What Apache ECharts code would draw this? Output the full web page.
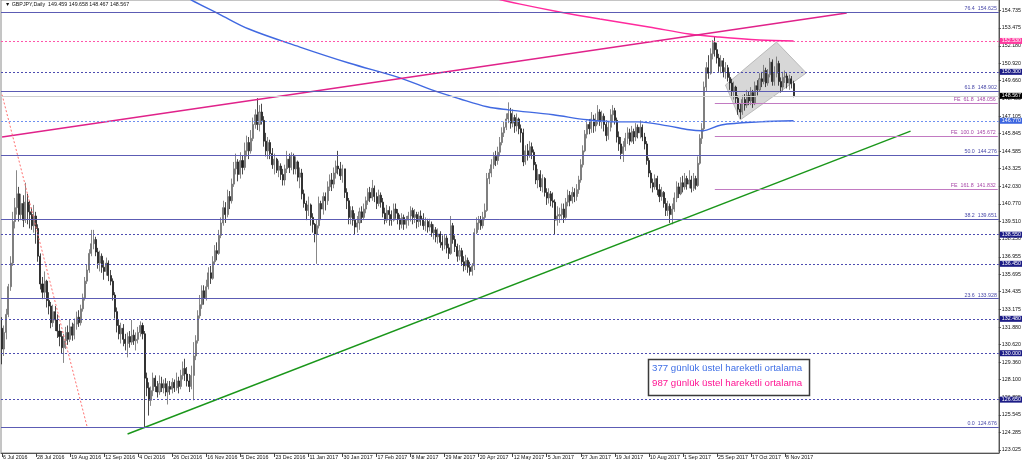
<!DOCTYPE html>
<html><head><meta charset="utf-8">
<script src="https://cdn.jsdelivr.net/npm/echarts@6/dist/echarts.min.js"></script>
<style>html,body{margin:0;padding:0;background:#fff}#c{width:1024px;height:464px}</style>
</head><body><div id="c"></div>
<script>
const xTickLabels = ["6 Jul 2016","28 Jul 2016","19 Aug 2016","12 Sep 2016","4 Oct 2016","26 Oct 2016","16 Nov 2016","5 Dec 2016","23 Dec 2016","11 Jan 2017","30 Jan 2017","17 Feb 2017","8 Mar 2017","29 Mar 2017","20 Apr 2017","12 May 2017","5 Jun 2017","27 Jun 2017","19 Jul 2017","10 Aug 2017","1 Sep 2017","25 Sep 2017","17 Oct 2017","8 Nov 2017"];
const yTickLabels = ["123.025","124.285","125.545","126.805","128.100","129.360","130.620","131.880","133.175","134.435","135.695","136.955","138.250","139.510","140.770","142.030","143.325","144.585","145.845","147.105","148.400","149.660","150.920","152.180","153.475","154.735"];

const firstOpen = 131.8;
const closes = [
130.3,131.5,132.8,134.8,136.5,139.5,140.5,141.5,140.0,140.8,
139.6,140.9,140.2,140.0,139.2,139.9,139.0,137.0,135.0,134.4,
135.2,133.8,133.4,132.2,133.0,132.4,131.6,131.2,130.4,130.9,
131.5,131.0,131.9,131.3,132.1,132.6,132.2,133.2,134.0,135.2,
136.0,137.2,137.9,138.2,137.3,136.5,137.0,136.2,135.9,136.5,
135.6,135.2,134.2,133.0,132.0,131.4,131.8,131.0,130.7,131.2,
130.8,131.3,130.9,131.0,131.5,132.0,131.4,128.2,127.5,126.6,
127.3,128.2,127.6,127.2,127.8,127.5,127.8,127.2,127.6,127.4,
127.9,127.5,128.0,127.6,128.4,128.9,128.5,128.0,127.6,128.4,
129.8,130.9,132.7,133.5,134.5,134.0,134.8,135.8,135.4,136.6,
137.4,137.2,138.5,139.4,140.5,140.0,141.3,141.0,142.2,143.3,
143.8,142.9,143.9,143.4,144.6,145.2,144.6,145.5,146.5,147.2,
146.5,147.4,146.8,145.3,144.6,145.2,144.4,143.6,144.0,143.2,
143.5,142.9,142.5,143.3,144.0,143.4,144.2,143.3,143.8,142.7,
143.0,141.5,140.8,140.3,140.7,139.8,139.3,138.6,139.2,140.8,
140.4,141.3,141.0,142.0,142.5,142.2,143.0,143.5,143.3,142.8,
143.3,141.6,141.0,139.8,140.3,139.6,139.1,139.4,140.2,139.8,
140.4,141.0,141.6,141.2,141.9,141.3,140.8,141.4,140.9,140.1,
139.6,140.3,140.0,139.6,140.4,140.1,139.7,139.3,139.8,139.3,
139.6,139.9,140.3,139.8,140.0,139.5,139.9,139.7,139.2,139.5,
139.1,139.3,138.7,138.9,138.4,138.6,138.0,137.8,138.3,137.6,
137.2,139.2,138.2,137.7,137.0,137.4,136.6,136.3,136.7,136.2,
135.9,136.3,138.7,139.4,139.6,139.2,139.8,140.3,142.6,143.0,
143.6,144.2,143.9,144.5,145.2,145.9,146.3,146.9,147.3,146.6,
147.0,146.4,146.9,146.2,145.9,143.8,144.6,144.3,144.9,144.5,
143.6,142.5,142.9,142.0,142.6,141.6,141.2,141.5,141.0,140.9,
139.6,139.9,140.0,140.4,139.8,140.9,141.4,141.0,141.6,141.3,
141.8,142.5,143.6,144.6,145.8,146.5,146.2,146.9,146.4,146.8,
147.4,146.7,147.1,146.5,145.7,146.3,147.2,147.5,146.8,145.6,
145.1,144.4,144.9,145.5,145.9,145.3,146.0,145.6,146.3,145.9,
146.3,145.6,145.1,143.9,143.0,142.3,142.0,142.6,141.8,141.3,
141.6,140.8,140.3,140.6,140.0,140.4,141.2,142.0,141.5,142.3,
142.0,142.6,142.2,142.5,141.9,142.6,142.1,143.7,145.5,146.2,
149.2,150.6,150.2,151.6,152.4,151.9,151.3,150.7,151.1,150.3,
150.6,149.9,149.5,148.9,149.2,148.4,147.6,147.4,148.3,147.9,
148.6,148.2,148.8,148.0,149.3,149.0,149.8,149.6,150.4,149.5,
150.1,151.0,149.6,150.2,150.9,149.6,149.2,149.9,150.0,149.5,
149.8,149.459,148.567];
const highs = [
132.6,132.0,133.2,135.0,137.0,140.2,141.2,143.2,142.0,141.5,
141.4,142.3,141.5,141.0,140.5,140.7,140.2,139.3,137.2,135.5,
135.9,135.3,134.4,133.7,133.5,133.4,132.8,132.1,131.6,131.4,
131.9,132.0,132.4,132.2,132.5,133.0,133.1,133.5,134.3,135.5,
136.4,137.5,138.9,138.9,138.4,137.6,137.4,137.2,136.7,136.9,
136.7,136.0,135.4,134.4,133.3,132.4,132.2,132.1,131.4,131.5,
131.6,132.4,131.7,131.5,131.9,132.3,132.2,131.6,128.6,127.9,
127.6,128.6,128.4,128.0,128.4,128.3,128.1,128.2,128.0,128.0,
128.2,128.1,128.6,128.3,128.8,129.4,129.6,129.0,128.5,129.1,
130.8,131.3,133.1,134.2,134.9,134.9,135.3,136.2,136.3,137.0,
137.8,138.0,138.9,139.8,141.0,140.9,141.8,141.7,142.6,143.8,
144.4,144.0,144.5,144.3,145.2,145.7,145.6,146.1,147.0,147.6,
148.4,147.9,148.0,147.1,145.9,145.6,145.4,144.8,144.4,144.1,
143.9,143.7,143.3,143.6,144.6,144.4,144.5,144.4,144.2,143.9,
143.4,143.3,141.8,141.0,141.3,140.8,140.1,139.4,139.6,141.3,
141.0,141.6,141.6,142.4,142.9,143.0,143.4,143.9,144.6,143.8,
143.6,143.3,141.9,141.2,140.6,140.6,140.1,139.9,140.5,140.6,
140.8,141.3,141.9,142.0,142.5,142.1,141.6,141.8,141.6,141.2,
140.5,140.7,140.6,140.3,140.8,140.8,140.4,140.0,140.1,140.0,
139.9,140.2,140.6,140.5,140.4,140.2,140.2,140.3,140.1,139.8,
139.7,139.7,139.5,139.3,139.1,139.0,138.8,138.5,138.6,138.5,
137.9,139.9,139.4,138.5,137.9,137.8,137.6,137.0,137.1,136.9,
136.6,136.5,139.0,139.8,139.9,139.9,140.2,140.8,143.0,143.3,
144.0,144.5,144.6,144.9,145.6,146.3,146.7,147.3,148.1,147.7,
147.6,147.2,147.3,147.0,146.5,146.2,145.0,145.1,145.3,145.2,
144.7,143.8,143.3,143.2,142.9,142.7,141.9,141.9,141.7,141.6,
141.1,140.6,140.5,140.8,140.8,141.2,141.8,141.7,142.0,141.9,
142.2,142.8,144.0,145.0,146.1,146.8,146.9,147.4,147.2,147.3,
147.9,147.6,147.5,147.3,146.8,146.7,147.6,147.9,147.7,147.0,
146.0,145.6,145.3,145.9,146.3,146.2,146.4,146.2,146.6,146.5,
146.8,146.5,145.9,145.3,144.1,143.2,142.6,142.9,142.8,142.2,
142.0,141.7,141.2,141.0,140.8,140.8,141.6,142.4,142.3,142.7,
142.8,143.0,142.8,143.2,142.8,143.0,142.8,144.2,145.8,146.6,
149.6,151.0,151.5,152.0,152.6,152.85,152.4,151.6,151.5,151.3,
151.0,150.8,150.2,149.8,149.6,149.3,148.6,148.0,148.6,148.7,
149.0,148.9,149.2,149.0,149.6,149.7,150.2,150.3,150.8,150.6,
150.5,151.3,151.2,150.7,151.4,151.1,149.9,150.3,150.4,150.2,
150.1,150.0,149.658];
const lows = [
129.2,129.8,131.0,132.6,134.5,136.3,139.0,140.0,139.5,139.6,
139.1,139.4,139.3,139.0,138.9,138.7,137.9,136.6,134.6,133.9,
134.0,133.3,132.8,131.8,131.9,131.6,131.1,130.5,130.0,129.3,
130.3,130.6,130.8,130.9,131.0,131.7,131.9,132.0,133.0,133.8,
135.0,135.8,137.0,137.5,137.0,136.1,135.9,135.8,135.3,135.6,
135.2,134.9,133.8,132.5,131.5,131.0,130.7,130.5,130.2,129.7,
130.4,130.6,130.6,130.2,130.7,131.2,131.0,124.68,126.9,125.5,
126.2,126.9,127.2,126.8,127.0,127.2,127.1,126.9,126.3,127.0,
127.1,127.2,127.3,127.1,127.4,128.1,128.0,127.6,127.2,127.4,
126.6,129.5,130.7,132.5,133.2,133.5,133.8,134.6,135.0,135.3,
136.4,136.7,137.1,138.3,139.2,139.4,139.8,140.4,140.8,142.0,
142.9,142.4,142.6,142.9,143.2,144.2,144.0,144.4,145.3,146.2,
146.1,146.0,146.5,144.9,144.2,144.0,144.0,143.3,142.9,143.0,
142.7,142.5,142.1,142.1,143.0,143.0,143.2,142.9,142.9,142.4,
141.9,141.1,140.5,139.6,139.9,139.2,138.7,138.0,136.45,139.0,
139.6,140.0,140.3,140.7,141.7,141.7,141.9,142.6,142.9,142.5,
142.3,141.2,140.4,139.3,139.3,139.2,138.6,138.7,138.9,139.4,
139.6,140.1,140.7,140.9,141.0,140.9,140.4,140.6,140.5,139.8,
139.3,139.4,139.2,139.2,139.5,139.7,139.3,138.9,139.0,138.9,
139.0,139.2,139.5,139.3,139.4,139.0,139.1,139.2,138.9,138.8,
138.7,138.8,138.4,138.2,138.0,137.9,137.6,137.4,137.5,137.2,
136.8,137.1,137.9,137.3,136.6,136.7,136.3,135.9,136.0,135.8,
135.6,135.6,136.0,138.6,138.9,138.9,139.0,139.6,140.2,142.2,
142.7,143.3,143.5,143.6,144.2,145.0,145.6,146.1,146.6,146.2,
146.3,145.9,146.0,145.8,145.2,143.5,143.6,143.9,144.1,144.0,
143.2,142.2,141.9,141.7,141.6,141.3,140.7,140.8,140.6,140.5,
138.55,139.2,139.4,139.6,139.4,139.6,140.6,140.6,140.8,140.9,
141.0,141.5,142.3,143.4,144.5,145.5,145.8,145.9,145.9,146.0,
146.5,146.4,146.2,146.0,145.3,145.4,146.0,146.7,146.5,145.2,
144.6,144.0,143.8,144.6,145.1,145.0,145.2,145.1,145.3,145.5,
145.5,145.3,144.7,143.6,142.7,141.9,141.6,141.8,141.4,140.9,
141.0,140.5,139.9,139.9,139.4,139.3,140.2,140.9,141.2,141.4,
141.6,141.8,141.8,141.9,141.6,141.7,141.8,142.0,143.6,145.1,
146.0,148.9,149.8,150.1,151.2,151.4,150.9,150.3,150.2,149.9,
149.8,149.6,149.0,148.5,148.3,148.0,147.2,146.9,147.2,147.5,
147.7,147.9,147.9,147.7,147.9,148.6,148.9,149.2,149.4,149.2,
149.3,149.9,149.3,149.3,149.9,149.3,148.8,148.9,149.5,149.1,
149.0,149.1,148.467];

// moving averages (bar index, price)
const ema377Bars = [86,89,102,116,140,163,187,202,215,228,238,259,275,290,299,313,323,329,338,356,372];
const ema377Vals = [155.77,155.48,154.47,153.39,152.09,150.94,149.87,149.00,148.36,147.78,147.56,147.20,146.84,146.69,146.69,146.40,146.12,146.05,146.47,146.69,146.77];
const ema987Bars = [229,243,262,281,304,323,337,356,372];
const ema987Vals = [155.70,155.20,154.62,154.11,153.54,153.03,152.81,152.60,152.53];

// trend lines (bar index, price)
const pinkTrendBars = [0,397];   const pinkTrendVals = [145.60,154.55];
const greenTrendBars = [59,427]; const greenTrendVals = [124.17,146.03];
const redTrendBars = [0,40];     const redTrendVals = [148.65,124.68];
const chanBars = [340,364,378,347]; const chanVals = [149.35,152.45,150.22,146.84];

// horizontal levels
const fibLevels = [154.625,148.902,144.276,139.651,133.928,124.676];
const fibPcts = ["76.4","61.8","50.0","38.2","23.6","0.0"];
const feLevels = [148.056,145.672,141.832];
const fePcts = ["61.8","100.0","161.8"];
const feStartBar = 335;
const dottedLevels = [150.300,138.550,136.450,132.480,130.000,126.650];
const ema377Level = 146.770, ema987Level = 152.530, lastPrice = 148.567;
const headerText = "\u25BC GBPJPY,Daily  149.459 149.658 148.467 148.567";
const legendTexts = ["377 günlük üstel hareketli ortalama","987 günlük üstel hareketli ortalama"];

const N = 469;
const categories = Array.from({length:N},(_,i)=>String(i));
const candles = closes.map((c,i)=>{
  const o = i===0 ? firstOpen : closes[i-1];
  return [o, c, Math.min(lows[i],o,c), Math.max(highs[i],o,c)];
});
const pairs = (b,v)=>b.map((x,i)=>[x,v[i]]);
const FS = 5.3, FF = '"Liberation Sans", Arial, sans-serif';
const lastBar = N-1;

const ml = [];
fibLevels.forEach((v,i)=>ml.push({yAxis:v, lineStyle:{color:'#5c5cb4',width:1,type:'solid'},
  label:{show:true,position:'insideEndTop',formatter:fibPcts[i]+'  '+v.toFixed(3),color:'#4848a8',fontSize:FS,fontFamily:FF,distance:[2,1]}}));
dottedLevels.forEach(v=>ml.push({yAxis:v, lineStyle:{color:'#4c4cb0',width:1,type:[2,2]},
  label:{show:true,position:'end',formatter:v.toFixed(3),color:'#fff',backgroundColor:'#1c1c86',padding:[1,1,0,2],fontSize:FS,fontFamily:FF,distance:1}}));
ml.push({yAxis:ema377Level, lineStyle:{color:'#6f8fef',width:1,type:[2,2]},
  label:{show:true,position:'end',formatter:ema377Level.toFixed(3),color:'#fff',backgroundColor:'#3d66e0',padding:[1,1,0,2],fontSize:FS,fontFamily:FF,distance:1}});
ml.push({yAxis:ema987Level, lineStyle:{color:'#ff55aa',width:1,type:[2,2]},
  label:{show:true,position:'end',formatter:ema987Level.toFixed(3),color:'#fff',backgroundColor:'#ff3ca0',padding:[1,1,0,2],fontSize:FS,fontFamily:FF,distance:1}});
ml.push({yAxis:lastPrice, lineStyle:{color:'#cfcfcf',width:1,type:'solid'},
  label:{show:true,position:'end',formatter:lastPrice.toFixed(3),color:'#fff',backgroundColor:'#000',padding:[1,1,0,2],fontSize:FS,fontFamily:FF,distance:1}});
feLevels.forEach((v,i)=>{
  const st = {lineStyle:{color:'#c27ac2',width:1,type:'solid'},
    label:{show:true,position:'insideEndTop',formatter:'FE  '+fePcts[i]+'  '+v.toFixed(3),color:'#a848a8',fontSize:FS,fontFamily:FF,distance:[2,1]}};
  ml.push([Object.assign({coord:[feStartBar,v]},st),Object.assign({coord:[lastBar,v]},st)]);
});

const chart = echarts.init(document.getElementById('c'), null, {renderer:'canvas'});
const showX = (i)=> i%16===0 && i/16 < xTickLabels.length;
chart.setOption({
  animation:false,
  backgroundColor:'#fff',
  grid:{left:1,right:24,top:0,bottom:11,show:true,borderColor:'#8a8a8a',borderWidth:1},
  xAxis:{type:'category',data:categories,boundaryGap:true,
    axisLine:{show:true,lineStyle:{color:'#555',width:1}},
    axisTick:{show:true,interval:showX,alignWithLabel:true,length:4,lineStyle:{color:'#444'}},
    axisLabel:{show:true,interval:showX,formatter:(v,i)=>xTickLabels[i/16]||'',align:'left',margin:2,padding:[0,0,0,1],fontSize:FS,fontFamily:FF,color:'#111'},
    splitLine:{show:false}},
  yAxis:{type:'value',position:'right',min:122.80,max:155.484,scale:true,
    axisLine:{show:true,lineStyle:{color:'#555',width:1}},
    axisTick:{show:true,length:2,customValues:yTickLabels.map(Number),lineStyle:{color:'#444'}},
    axisLabel:{show:true,customValues:yTickLabels.map(Number),formatter:(v)=>Number(v).toFixed(3),margin:3,fontSize:FS,fontFamily:FF,color:'#111'},
    splitLine:{show:false}},
  series:[
    {type:'custom',z:1,silent:true,clip:false,data:[[chanBars[0],chanVals[0]]],
      renderItem:(params,api)=>({type:'polygon',shape:{points:chanBars.map((b,k)=>api.coord([b,chanVals[k]]))},
        style:{fill:'rgba(190,190,190,0.62)',stroke:'rgba(175,175,175,0.8)',lineWidth:1}})},
    {type:'candlestick',z:3,silent:true,data:candles,barWidth:'72%',
      itemStyle:{color:'#a8a8a8',color0:'#1c1c1c',borderColor:'#6a6a6a',borderColor0:'#1c1c1c',borderWidth:0.8}},
    {type:'line',z:4,silent:true,data:pairs(ema377Bars,ema377Vals),smooth:0.35,symbol:'none',
      lineStyle:{color:'#4169e1',width:1.4},
      markLine:{silent:true,symbol:['none','none'],animation:false,data:ml}},
    {type:'line',z:4,silent:true,data:pairs(ema987Bars,ema987Vals),smooth:0.35,symbol:'none',lineStyle:{color:'#ff2a9d',width:1.4}},
    {type:'line',z:4,silent:true,data:pairs(pinkTrendBars,pinkTrendVals),symbol:'none',lineStyle:{color:'#e0228a',width:1.4}},
    {type:'line',z:4,silent:true,data:pairs(greenTrendBars,greenTrendVals),symbol:'none',lineStyle:{color:'#1a961a',width:1.4}},
    {type:'line',z:4,silent:true,data:pairs(redTrendBars,redTrendVals),symbol:'none',lineStyle:{color:'#ff7070',width:1,type:[2,2]}}
  ],
  graphic:[
    {type:'text',left:5,top:2,z:10,style:{text:headerText,fill:'#111',font:FS+'px '+FF}},
    {type:'group',z:10,children:[
      {type:'rect',shape:{x:648.5,y:359.5,width:161,height:36},style:{fill:'#fff',stroke:'#3a3a3a',lineWidth:1.5}},
      {type:'text',x:652,y:368.7,style:{text:legendTexts[0],fill:'#3f6fe6',font:'9.7px '+FF,verticalAlign:'middle'}},
      {type:'text',x:652,y:383.1,style:{text:legendTexts[1],fill:'#ff1493',font:'9.7px '+FF,verticalAlign:'middle'}}
    ]}
  ]
});
</script></body></html>
